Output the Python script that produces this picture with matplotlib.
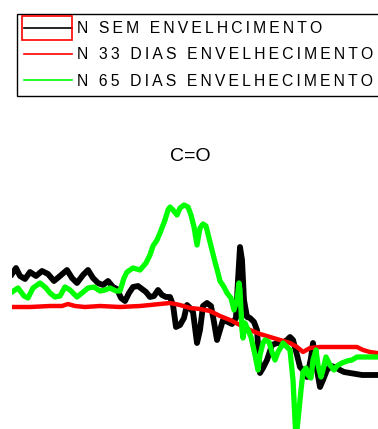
import matplotlib
matplotlib.use('Agg')
import matplotlib.pyplot as plt
from matplotlib.lines import Line2D
from matplotlib.patches import Rectangle

# values (position along the band, relative signal)
x_sem = [0, 4, 8, 13, 18, 24, 30, 36, 42, 48, 55, 60, 65, 71, 76, 81, 86, 91, 96, 101,
         105, 109, 113, 117, 121, 126, 130, 134, 138, 142, 146, 150, 154, 158, 161, 164,
         168, 172, 175, 178, 181, 185, 188, 191, 195, 199, 202, 205, 208, 211, 216, 220,
         224, 226, 228, 230, 232, 235, 238, 242, 245, 248, 251, 255, 260, 265, 270, 275,
         278, 281, 285, 288, 291, 295, 299, 301, 305, 308, 311, 315, 319, 323, 328, 332,
         338, 344, 350, 358, 365]
y_sem = [156, 162, 154, 151, 158, 154, 159, 156, 149, 154, 160, 152, 147, 155, 160, 152,
         147, 145, 149, 143, 141, 132, 129, 137, 143, 144, 141, 138, 133, 134, 140, 135,
         133, 133, 125, 103, 105, 112, 125, 122, 118, 87, 100, 124, 127, 124, 108, 90,
         100, 110, 108, 106, 112, 150, 183, 170, 130, 113, 112, 108, 100, 57, 62, 70, 85,
         87, 87, 90, 93, 90, 75, 63, 60, 53, 72, 87, 60, 43, 50, 60, 64, 63, 60, 58, 57,
         56, 55, 55, 55]

x_33 = [0, 18, 38, 50, 56, 63, 73, 88, 108, 128, 148, 158, 168, 178, 188, 198, 208, 218,
        228, 238, 248, 258, 268, 278, 285, 291, 298, 308, 328, 345, 351, 358, 365]
y_33 = [123, 123, 124, 124, 126, 124, 123, 124, 123, 124, 126, 127, 125, 122, 121, 119,
        114, 110, 105, 100, 96, 93, 90, 87, 83, 78, 82, 83, 83, 83, 80, 78, 77]

x_65 = [0, 6, 12, 16, 21, 28, 34, 38, 43, 48, 53, 58, 65, 70, 76, 82, 88, 93, 98, 104,
        108, 112, 115, 121, 128, 134, 138, 141, 145, 148, 153, 156, 158, 161, 165, 168,
        172, 176, 179, 182, 185, 188, 191, 194, 197, 200, 203, 206, 208, 212, 215, 219,
        222, 225, 227, 228, 230, 231, 233, 236, 239, 243, 246, 248, 251, 253, 257, 260,
        263, 266, 269, 271, 275, 278, 281, 284, 286, 289, 291, 294, 296, 299, 301, 304,
        306, 309, 311, 314, 318, 322, 325, 330, 335, 340, 345, 350, 355, 360, 365]
y_65 = [138, 142, 134, 132, 142, 147, 142, 137, 133, 134, 143, 140, 133, 137, 142, 143,
        139, 140, 142, 139, 139, 152, 158, 162, 160, 167, 175, 184, 190, 197, 210, 220,
        223, 220, 215, 222, 225, 223, 215, 203, 185, 202, 206, 204, 192, 180, 168, 157,
        149, 143, 137, 132, 120, 130, 147, 140, 100, 92, 107, 100, 93, 75, 60, 75, 87,
        90, 88, 78, 70, 78, 83, 87, 83, 80, 50, -10, 10, 40, 58, 62, 55, 52, 70, 80,
        65, 53, 60, 73, 65, 60, 64, 67, 69, 70, 73, 73, 73, 73, 73]

labels = ['N SEM ENVELHCIMENTO', 'N 33 DIAS ENVELHECIMENTO', 'N 65 DIAS ENVELHECIMENTO']
title = 'C=O'

W, H = 378, 429
fig = plt.figure(figsize=(W / 100, H / 100), dpi=100)
ax = fig.add_axes([12 / W, 0, 366 / W, 234 / H])

ax.plot(x_sem, y_sem, color='black', linewidth=4.2, zorder=2)
ax.plot(x_33, y_33, color='#ff0000', linewidth=3.2, zorder=3)
ax.plot(x_65, y_65, color='#00ff00', linewidth=3.8, zorder=4)
ax.set_xlim(0, 366)
ax.set_ylim(1, 235)
ax.axis('off')

fig.text(190 / W, 1 - 157 / H, title, ha='center', va='center',
         fontsize=14, family='Liberation Sans')


def spaced(s):
    # the original labels have a wide letter spacing
    return '\u2009'.join(s)


handles = [Line2D([], [], color='black', lw=1.2),
           Line2D([], [], color='#ff0000', lw=1.2),
           Line2D([], [], color='#00ff00', lw=1.2)]
leg = fig.legend(handles, [spaced(l) for l in labels], loc='upper left',
                 bbox_to_anchor=(17 / W, 1 - 14 / H), borderaxespad=0,
                 prop={'family': 'Liberation Sans', 'size': 11.3},
                 handlelength=3.05, handletextpad=0.3, borderpad=0.45,
                 labelspacing=0.72, fancybox=False, framealpha=1)
leg.get_frame().set_edgecolor('black')
leg.get_frame().set_linewidth(1.0)

# red marker box around the first legend entry
fig.add_artist(Rectangle((22 / W, 1 - 40 / H), 50 / W, 24 / H,
                         transform=fig.transFigure, fill=False,
                         edgecolor='#ff0000', linewidth=1.2, zorder=10))

fig.savefig('out.png', dpi=100)
